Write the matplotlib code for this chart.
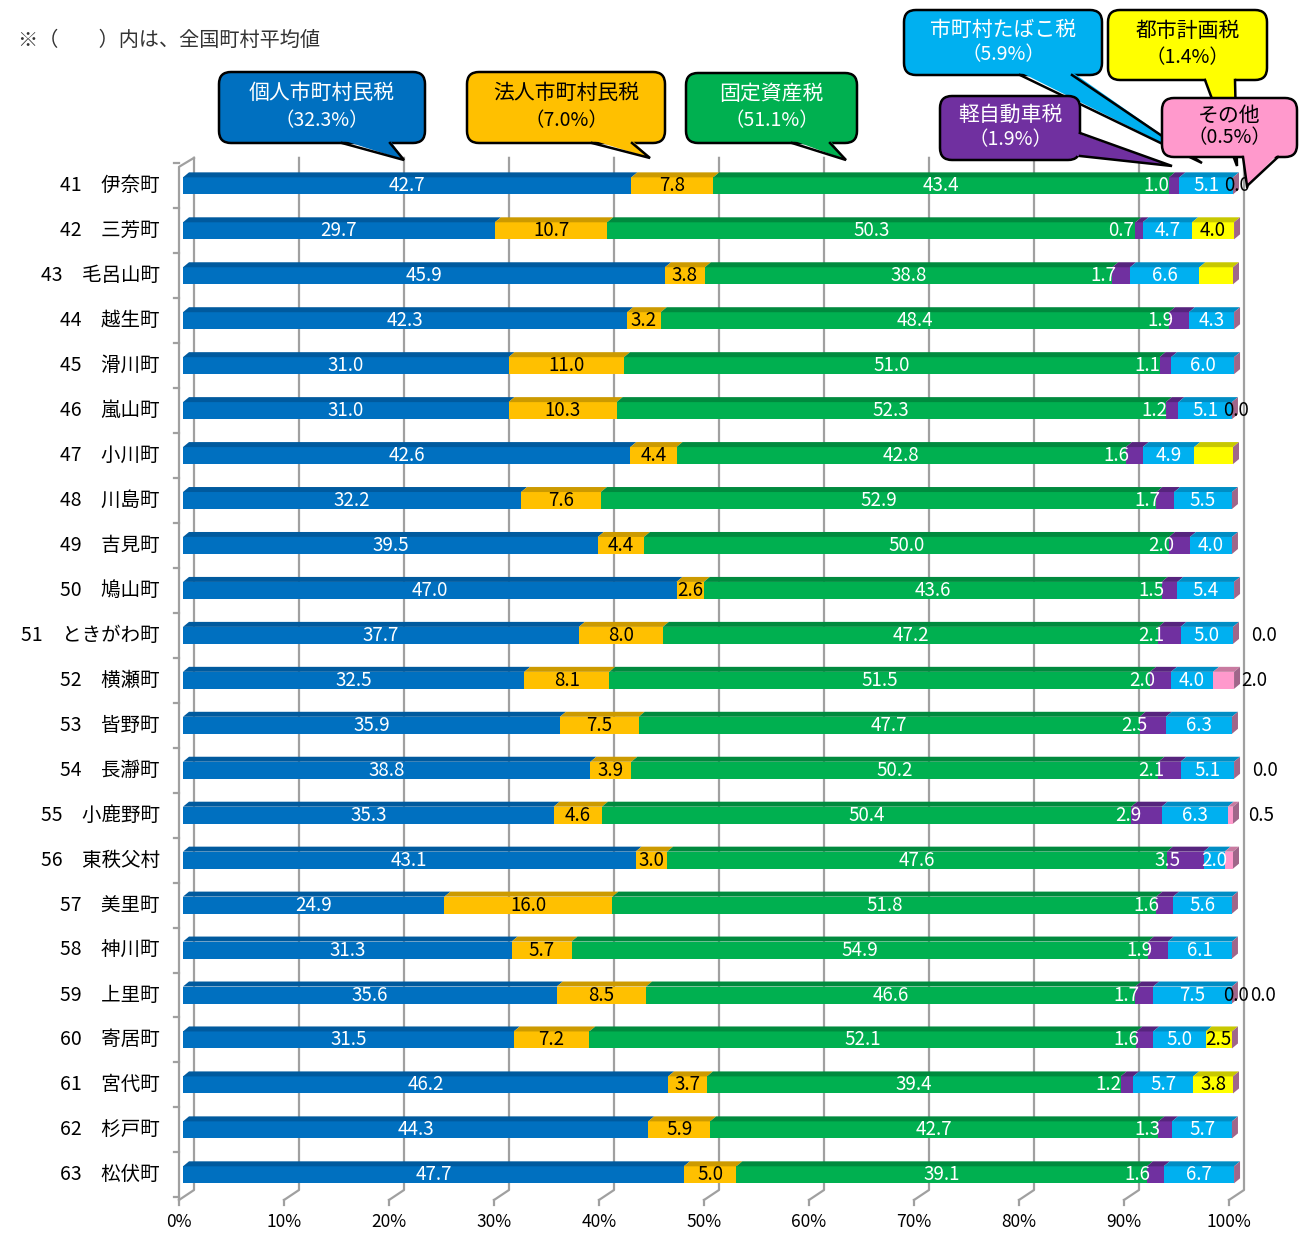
import matplotlib
matplotlib.use("Agg")
import matplotlib.pyplot as plt
from matplotlib.patches import Polygon, FancyBboxPatch
import numpy as np

plt.rcParams['font.family'] = ['Noto Sans CJK JP', 'DejaVu Sans']

# data
towns = ["41　伊奈町", "42　三芳町", "43　毛呂山町", "44　越生町", "45　滑川町",
         "46　嵐山町", "47　小川町", "48　川島町", "49　吉見町", "50　鳩山町",
         "51　ときがわ町", "52　横瀬町", "53　皆野町", "54　長瀞町", "55　小鹿野町",
         "56　東秩父村", "57　美里町", "58　神川町", "59　上里町", "60　寄居町",
         "61　宮代町", "62　杉戸町", "63　松伏町"]
kojin = [42.7, 29.7, 45.9, 42.3, 31.0, 31.0, 42.6, 32.2, 39.5, 47.0, 37.7, 32.5,
         35.9, 38.8, 35.3, 43.1, 24.9, 31.3, 35.6, 31.5, 46.2, 44.3, 47.7]
hojin = [7.8, 10.7, 3.8, 3.2, 11.0, 10.3, 4.4, 7.6, 4.4, 2.6, 8.0, 8.1,
         7.5, 3.9, 4.6, 3.0, 16.0, 5.7, 8.5, 7.2, 3.7, 5.9, 5.0]
kotei = [43.4, 50.3, 38.8, 48.4, 51.0, 52.3, 42.8, 52.9, 50.0, 43.6, 47.2, 51.5,
         47.7, 50.2, 50.4, 47.6, 51.8, 54.9, 46.6, 52.1, 39.4, 42.7, 39.1]
keiji = [1.0, 0.7, 1.7, 1.9, 1.1, 1.2, 1.6, 1.7, 2.0, 1.5, 2.1, 2.0,
         2.5, 2.1, 2.9, 3.5, 1.6, 1.9, 1.7, 1.6, 1.2, 1.3, 1.6]
tabako = [5.1, 4.7, 6.6, 4.3, 6.0, 5.1, 4.9, 5.5, 4.0, 5.4, 5.0, 4.0,
          6.3, 5.1, 6.3, 2.0, 5.6, 6.1, 7.5, 5.0, 5.7, 5.7, 6.7]
toshi = [0.0, 4.0, 3.2, 0.0, 0.0, 0.0, 3.7, 0.0, 0.0, 0.0, 0.0, 0.0,
         0.0, 0.0, 0.0, 0.0, 0.0, 0.0, 0.0, 2.5, 3.8, 0.0, 0.0]
sonota = [0.0, 0.0, 0.0, 0.0, 0.0, 0.0, 0.0, 0.0, 0.0, 0.0, 0.0, 2.0,
          0.0, 0.0, 0.5, 0.8, 0.0, 0.0, 0.0, 0.0, 0.0, 0.0, 0.0]

# labels hidden in the original / zero labels that are shown
hide_toshi = [2, 6]
hide_sonota = [15]
zero_toshi = [0, 5, 18]
zero_sonota = [10, 13, 18]

series = [kojin, hojin, kotei, keiji, tabako, toshi, sonota]
face = ["#0070C0", "#FFC000", "#00B050", "#7030A0", "#00B0F0", "#FFFF00", "#FF99CC"]
top = ["#005A9E", "#CC9A00", "#008A3E", "#56247D", "#008DC4", "#C8C800", "#C87AA0"]
txtc = ["white", "black", "white", "white", "white", "black", "black"]
lab_dx = [0, 0, 0, -13, 0, 0, 22]   # points

W, H = 1303, 1234
fig = plt.figure(figsize=(W / 100, H / 100), dpi=100)

# main plot area : front 0%..100% = 179..1229 px, rows 41..63 at 186..1175 px
y_top, y_bot = -1.02, 22.56
ax = fig.add_axes([179 / W, 1 - 1200 / H, 1050 / W, 1060 / H])
ax.set_xlim(0, 100)
ax.set_ylim(y_bot, y_top)
ax.axis('off')
px = 10.5
py = 1060 / (y_bot - y_top)

dxw, dyw = 15 / px, -10 / py          # depth of the walls
x0 = 4 / px                           # bar offset inside the depth
ddx, ddy = 6 / px, -5 / py            # bar top face
hb = 17 / py
gcol = "#A0A0A0"
wall_top = (158 - 186) / py

# back wall gridlines + floor slants
for v in range(0, 101, 10):
    ax.plot([v + dxw, v + dxw, v], [wall_top, y_bot + dyw, y_bot], color=gcol, lw=1.6,
            zorder=1, clip_on=False)
    ax.plot([v, v], [y_bot, y_bot + 5 / py], color=gcol, lw=1.6, zorder=1, clip_on=False)
    ax.text(v, y_bot + 22 / py, f"{v}%", ha='center', va='center', fontsize=12.5,
            color='black')

# left wall
ax.plot([0, 0, dxw], [y_bot, (167 - 186) / py, wall_top], color=gcol, lw=1.6,
        zorder=1, clip_on=False)
for i in range(-1, len(towns)):
    ax.plot([-5 / px, 0], [i + 0.5, i + 0.5], color=gcol, lw=1.6, zorder=1, clip_on=False)

idx = np.arange(len(towns))
left = np.zeros(len(towns))
for k, vals in enumerate(series):
    vals = np.array(vals)
    ax.barh(idx, vals, left=left + x0, height=hb, color=face[k], zorder=3, clip_on=False)
    for i in idx:
        w = vals[i]
        yt = i - hb / 2
        if w > 0:
            ax.add_patch(Polygon([(left[i] + x0, yt), (left[i] + w + x0, yt),
                                  (left[i] + w + x0 + ddx, yt + ddy),
                                  (left[i] + x0 + ddx, yt + ddy)],
                                 closed=True, color=top[k], zorder=3, lw=0, clip_on=False))
        show = w > 0
        dx = lab_dx[k]
        if k == 5:
            show = (w > 0 and i not in hide_toshi) or i in zero_toshi
            if w == 0:
                dx = 3
        if k == 6:
            show = (w > 0 and i not in hide_sonota) or i in zero_sonota
        if show:
            ax.annotate(f"{w:.1f}", (left[i] + w / 2 + x0, i), xytext=(dx, 0),
                        textcoords='offset points', ha='center', va='center',
                        fontsize=13.5, color=txtc[k], zorder=5, annotation_clip=False)
    left = left + vals

# end caps
for i in idx:
    xe = left[i] + x0
    yt, yb = i - hb / 2, i + hb / 2
    ax.add_patch(Polygon([(xe, yb), (xe, yt), (xe + ddx, yt + ddy), (xe + ddx, yb + ddy)],
                         closed=True, color="#A0668A", zorder=4, lw=0, clip_on=False))

# town names
for i, t in enumerate(towns):
    ax.text(-19 / px, i, t, ha='right', va='center', fontsize=14, color='black')

# overlay for note and callouts (pixel coords)
ov = fig.add_axes([0, 0, 1, 1], zorder=10)
ov.set_xlim(0, W)
ov.set_ylim(H, 0)
ov.axis('off')
ov.patch.set_alpha(0)

ov.text(18, 40, "※（　　）内は、全国町村平均値", ha='left', va='center', fontsize=14.5,
        color='#333333')


def callout(x1, y1, x2, y2, col, tcol, title, pct, b1, b2, apex, inset, z):
    ov.add_patch(FancyBboxPatch((x1, y1), x2 - x1, y2 - y1,
                                boxstyle="round,pad=0,rounding_size=12",
                                fc=col, ec='black', lw=1.8, zorder=z))
    c1 = (b1[0] + inset[0], b1[1] + inset[1])
    c2 = (b2[0] + inset[0], b2[1] + inset[1])
    ov.add_patch(Polygon([c1, c2, apex], closed=True, fc=col, ec='none', zorder=z + 0.1))
    ov.plot([b1[0], apex[0], b2[0]], [b1[1], apex[1], b2[1]], color='black', lw=1.8,
            solid_joinstyle='miter', zorder=z + 0.2)
    cx = (x1 + x2) / 2
    h = y2 - y1
    ov.text(cx, y1 + h * 0.30, title, ha='center', va='center', fontsize=15, color=tcol,
            zorder=z + 0.3)
    ov.text(cx, y1 + h * 0.68, pct, ha='center', va='center', fontsize=14, color=tcol,
            zorder=z + 0.3)


callout(219, 72, 425, 143, "#0070C0", "white", "個人市町村民税", "（32.3%）",
        (342, 143), (390, 143), (404, 160), (0, -3), 1)
callout(467, 72, 665, 143, "#FFC000", "black", "法人市町村民税", "（7.0%）",
        (592, 143), (632, 143), (650, 158), (0, -3), 2)
callout(686, 73, 857, 143, "#00B050", "white", "固定資産税", "（51.1%）",
        (792, 143), (830, 143), (846, 160), (0, -3), 3)
callout(904, 10, 1102, 75, "#00B0F0", "white", "市町村たばこ税", "（5.9%）",
        (1020, 75), (1072, 75), (1202, 163), (0, -3), 4)
callout(1108, 10, 1267, 80, "#FFFF00", "black", "都市計画税", "（1.4%）",
        (1205, 80), (1235, 80), (1237, 166), (0, -3), 5)
callout(940, 96, 1080, 160, "#7030A0", "white", "軽自動車税", "（1.9%）",
        (1080, 133), (1080, 156), (1172, 166), (-3, 0), 6)
callout(1162, 98, 1297, 157, "#FF99CC", "black", "その他", "（0.5%）",
        (1243, 157), (1278, 157), (1247, 186), (0, -3), 7)

fig.savefig("out.png", dpi=100)
